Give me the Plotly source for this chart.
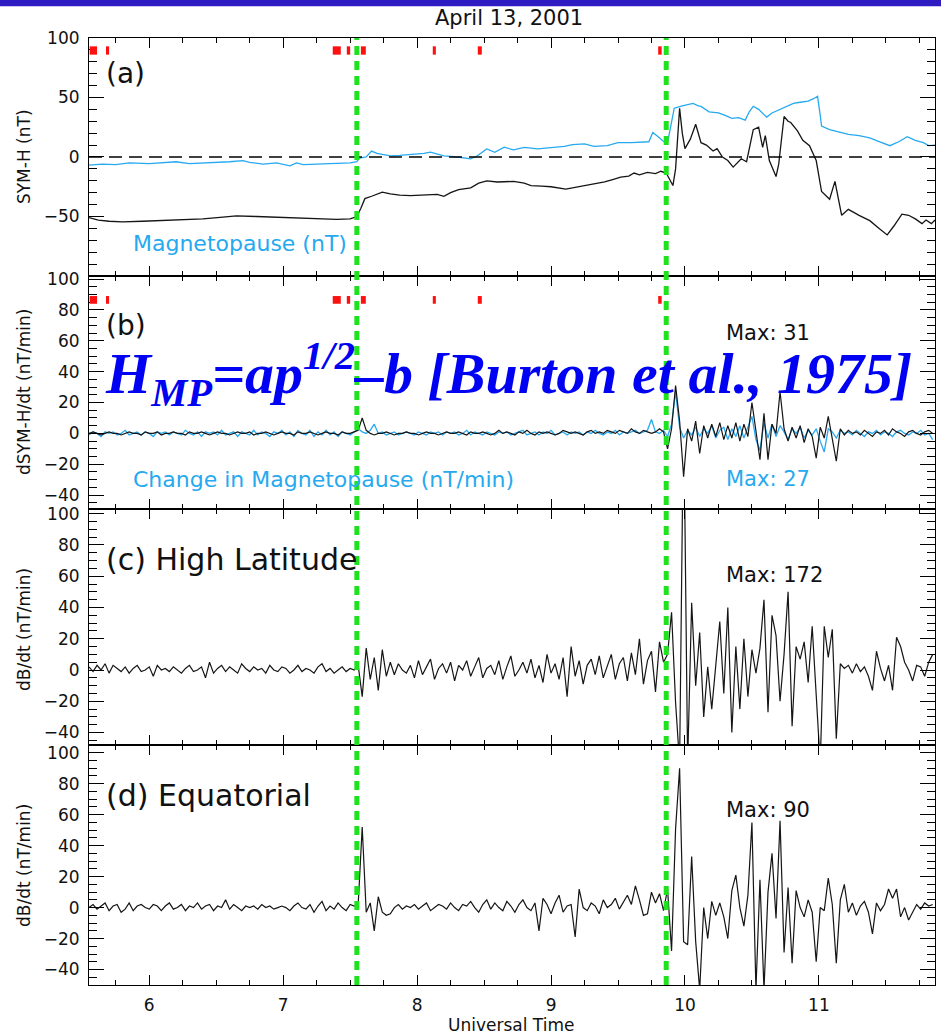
import numpy as np
import plotly.graph_objects as go

# ---------------- data ----------------
# panel (a): SYM-H and magnetopause contribution (nT), UT hours
symh_t = [5.55, 5.62, 5.70, 5.80, 5.95, 6.10, 6.25, 6.40, 6.55, 6.65, 6.80, 6.95, 7.10, 7.25, 7.40, 7.50,
          7.55, 7.58, 7.61, 7.66, 7.74, 7.80, 7.87, 7.95, 8.05, 8.15, 8.20, 8.25, 8.31, 8.40, 8.46, 8.52,
          8.60, 8.72, 8.80, 8.85, 8.93, 9.00, 9.11, 9.20, 9.32, 9.40, 9.46, 9.52, 9.58, 9.62, 9.66, 9.72,
          9.78, 9.82, 9.86, 9.88, 9.91, 9.93, 9.96, 9.98, 10.00, 10.04, 10.08, 10.12, 10.16, 10.21, 10.24,
          10.28, 10.32, 10.36, 10.39, 10.42, 10.46, 10.51, 10.55, 10.58, 10.60, 10.63, 10.68, 10.70, 10.74,
          10.77, 10.79, 10.84, 10.88, 10.93, 10.98, 11.02, 11.08, 11.12, 11.17, 11.22, 11.30, 11.38, 11.45,
          11.51, 11.56, 11.62, 11.67, 11.72, 11.77, 11.80, 11.84, 11.867]
symh_v = [-51, -53, -54, -54.5, -54, -53.5, -53, -52, -50.5, -49.5, -50, -50.5, -51.5, -52, -52.5, -52,
          -50, -43, -35, -33, -29.5, -31, -32, -32.5, -32, -31.5, -33, -30, -27.5, -26, -22, -20,
          -21, -20.5, -22, -24, -24.5, -25, -27, -25, -22.5, -21, -19, -17, -16, -13.5, -15, -13,
          -14, -12, -13.5, -18, -24, -10, 41, 20, 7, 15, 27.5, 12, 10, 5, 7,
          0, -3, -8.5, -5, -1.5, -4, 23, 25, 8, 18, -3, -16.5, -6, 34,
          30, 29, 22, 14, 9.5, -3, -29, -35.5, -20.5, -49, -44, -49, -53.5, -60,
          -65.5, -58, -48, -49, -52, -56, -53, -56, -53]

mp_t = [5.55, 5.65, 5.75, 5.85, 6.00, 6.10, 6.20, 6.30, 6.45, 6.60, 6.70, 6.75, 6.85, 6.95, 7.05, 7.10,
        7.15, 7.25, 7.35, 7.50, 7.55, 7.57, 7.62, 7.66, 7.70, 7.80, 7.87, 7.95, 8.05, 8.10, 8.20, 8.30,
        8.36, 8.40, 8.45, 8.52, 8.58, 8.65, 8.72, 8.80, 8.90, 9.00, 9.10, 9.16, 9.25, 9.32, 9.42, 9.50,
        9.60, 9.73, 9.76, 9.80, 9.84, 9.87, 9.90, 9.92, 9.98, 10.06, 10.10, 10.12, 10.18, 10.25, 10.30,
        10.35, 10.40, 10.45, 10.48, 10.51, 10.55, 10.58, 10.61, 10.65, 10.71, 10.76, 10.81, 10.86, 10.92,
        10.96, 10.99, 11.01, 11.02, 11.08, 11.15, 11.22, 11.30, 11.38, 11.45, 11.53, 11.60, 11.66, 11.72,
        11.78, 11.82, 11.867]
mp_v = [-6.8, -6, -6.5, -5, -5.5, -5, -4, -5.5, -5, -4, -3, -4.5, -6, -5, -7.5, -5,
        -6.5, -6, -5.5, -5, -4, -1, 0, 5, 3, 1, 1.4, 2, 3, 4, 1, 0,
        -1, -1.5, 1, 6.8, 4, 8.2, 6, 8, 6.8, 8, 9, 10.4, 11, 9, 9.5, 12,
        12, 12.8, 20.6, 17, 13, 12, 30, 41, 43, 45, 43, 42.5, 38, 37, 35,
        32.5, 33, 31, 38, 42.6, 40, 37, 33.5, 37, 40, 42, 45, 46, 47,
        49, 51, 35, 26, 23, 21, 19, 18, 16, 13, 9.5, 13, 17, 14,
        12, 9.5, 10]

# derivative series: regular sampling every T_STEP hours starting at T_START
T_START = 5.55
T_STEP = 0.03

dsymh = [0, 1, 0, -1, 0, 1, 0, 0, -1, 0,
         1, 0, 0, -1, 1, 0, 0, 1, -1, 0,
         0, 1, 0, 0, -1, 1, 0, 0, 1, 0,
         -1, 0, 1, 0, 0, -1, 0, 1, 0, 0,
         1, -1, 0, 0, 1, 0, -1, 0, 1, 0,
         0, -1, 1, 0, 0, 1, 0, -1, 0, 1,
         0, 0, -1, 1, 0, 0, 1, 2, 10, 2,
         0, -1, 0, 0, 1, 0, -1, 0, 0, 1,
         0, 0, -1, 0, 1, 0, 0, -1, 0, 1,
         0, 0, 1, 0, -1, 1, 0, 0, 1, 0,
         -1, 0, 2, 0, 1, 0, -1, 1, 0, 2,
         0, -1, 1, 0, 1, 0, -1, 0, 2, 1,
         0, 1, 0, -1, 1, 2, 0, 1, 0, 2,
         1, 0, 2, 1, 0, 3, 1, 0, 2, 1,
         0, 1, 3, 1, -10, 3, 31, 8, -28, 3,
         -5, 8, -13, 5, -3, 6, -2, 7, -4, 5,
         -3, 7, -5, 6, -2, 20, 2, -17, 13, -17,
         6, 0, 27, 3, -5, 4, -3, 5, -6, 3,
         -2, -16, 4, -3, 11, -5, -18, 3, -1, 2,
         0, 1, -1, 2, 0, -2, 1, 0, 2, -1,
         3, 1, 0, -2, 1, 2, 0, -1, 1, 2,
         0]

dmp = [-1, 1, 0, -2, 1, 0, 1, -1, 0, 2,
       -1, 0, 1, -1, 1, 0, -2, 1, 0, 1,
       -1, 1, 0, -1, 2, 0, -1, 1, -2, 1,
       0, 1, -1, 2, -1, 0, 1, -2, 1, 0,
       -1, 2, -1, 1, 0, -2, 1, 0, 2, -1,
       1, -2, 2, 0, -1, 2, -2, 1, -1, 2,
       -1, 1, -2, 1, 0, -1, 1, 3, 1, 0,
       2, 6, 0, 1, -1, 0, 1, -1, 0, 1,
       0, -1, 1, 0, -1, 1, 0, 1, -1, 1,
       0, 1, -1, 0, 2, -1, 1, 0, -1, 1,
       0, -1, 1, 0, 1, -1, 0, 1, 2, -1,
       0, 1, -1, 1, 0, 2, -1, 0, 1, -1,
       1, 0, 1, -1, 1, 0, 2, 0, -1, 1,
       0, 2, -1, 1, 0, 1, 2, 0, 1, 2,
       9, 1, 0, 2, -2, 6, 27, 4, -3, 2,
       -1, 4, -2, 3, 0, 5, -3, 2, 4, -4,
       3, -2, 5, -3, 4, 11, -4, -11, 7, -3,
       6, -2, 5, 1, -4, 3, 0, 4, -3, 2,
       -1, 3, -5, -12, 3, 1, -3, 2, 0, 1,
       -1, 2, 0, -2, 1, 0, 2, -1, 1, 0,
       -2, 1, 2, 0, -1, 1, 0, 2, -1, 0,
       -4]

dbdt_high = [2, -1, 3, 0, 4, -2, 3, 1, -1, 2,
             -2, 1, 3, -1, 0, 2, -4, 3, 0, 1,
             -1, 2, 0, -2, 1, 3, -1, 0, 2, -5,
             5, -2, 1, 3, -1, 2, 0, -2, 4, 1,
             -1, 2, 0, 1, -2, 3, 0, -1, 2, 1,
             -2, 0, 3, -1, 1, 0, -2, 2, 4, -1,
             1, -2, 0, 2, -1, 1, 0, 3, -17, 14,
             -6, 8, -13, 13, -4, 5, -3, 4, 0, -2,
             3, -5, 6, -3, 2, 7, -6, 1, 4, -2,
             5, -7, 3, 0, 6, -4, 2, 8, -5, 1,
             3, -3, 6, -6, 2, 9, -4, 0, 5, -2,
             7, -5, 3, -8, 10, -2, 4, -6, 8, -17,
             15, -4, 6, -9, 3, 7, -3, 9, -5, 2,
             10, -6, 4, 8, -7, 11, -3, 20, -9, 6,
             12, -14, 18, 5, 10, 37, -21, -60, 172, -60,
             43, -10, 24, -30, 2, -25, 5, 31, -15, 40,
             -40, 15, -25, 20, -17, 13, -2, 14, 45, -27,
             35, 22, -20, 10, 50, -36, 15, 7, 18, -8,
             28, -20, -60, 28, 8, 26, -44, 4, 1, 3,
             -2, 4, -1, 2, -4, -13, 12, 1, -7, 3,
             -13, 21, 15, 5, 0, -7, 3, 2, -4, 5,
             10]

dbdt_eq = [0, 2, -1, 1, 3, -2, 1, 2, -3, -1,
           3, -2, 1, 2, 0, -1, 2, 1, -2, 1,
           3, -1, 0, 2, -2, 1, 0, 3, -1, 1,
           2, -2, 1, 0, 5, -1, 2, 0, -2, 1,
           0, 1, -1, 2, 0, 1, -1, 0, 1, 0,
           -2, 1, 3, 0, -1, 2, -3, 1, 4, -2,
           1, -1, 3, 0, -2, 2, 1, 2, 52, -3,
           3, -15, 7, -3, -5, -4, 0, 2, -1, 1,
           0, 2, -1, 1, 3, -2, 0, 2, 1, -1,
           3, 0, -2, 2, 1, 4, 0, -3, 2, 5,
           -1, 3, 0, -2, 4, 1, -3, 2, 5, 0,
           -2, 3, -15, 6, 2, -4, 3, 8, -3, 1,
           2, -19, 12, 0, -2, 3, 1, -4, 5, 0,
           2, 6, -1, 4, 8, 2, 14, 5, -5, -4,
           10, 3, 9, -2, 12, -28, 51, 90, -22, -24,
           33, -22, -53, 0, -20, 4, -5, 3, -6, -20,
           11, 21, 0, -12, 8, 55, -53, 18, -53, 10,
           35, -7, 56, -29, 13, -36, 11, 0, -6, 5,
           -3, -35, 0, -2, 19, 2, -36, 5, 15, -3,
           3, -5, 1, 4, -3, -17, 3, -2, 2, 12,
           6, 12, -6, 0, -8, -3, 2, -1, 3, 1,
           2]

# red interval markers (UT hours)
red_start = [5.555, 5.677, 7.37, 7.475, 7.58, 8.117, 8.453, 9.800]
red_end = [5.610, 5.700, 7.43, 7.500, 7.617, 8.140, 8.483, 9.826]

# event onsets (green dashed lines)
onsets = [7.55, 9.86]

x_ticks = [6, 7, 8, 9, 10, 11]
ya_ticks = [-50, 0, 50, 100]
yb_ticks = [-40, -20, 0, 20, 40, 60, 80, 100]

# ---------------- figure ----------------
def tgrid(vals):
    return T_START + T_STEP * np.arange(len(vals))

BLACK = "#151515"
CYAN = "#27A9F0"
GREEN = "#1FE21F"
FONT = "DejaVu Sans"

fig = go.Figure()
fig.add_trace(go.Scatter(x=symh_t, y=symh_v, mode="lines", line=dict(color=BLACK, width=1.3), xaxis="x", yaxis="y"))
fig.add_trace(go.Scatter(x=mp_t, y=mp_v, mode="lines", line=dict(color=CYAN, width=1.3), xaxis="x", yaxis="y"))
fig.add_trace(go.Scatter(x=tgrid(dmp), y=dmp, mode="lines", line=dict(color=CYAN, width=1.3), xaxis="x2", yaxis="y2"))
fig.add_trace(go.Scatter(x=tgrid(dsymh), y=dsymh, mode="lines", line=dict(color=BLACK, width=1.2), xaxis="x2", yaxis="y2"))
fig.add_trace(go.Scatter(x=tgrid(dbdt_high), y=dbdt_high, mode="lines", line=dict(color=BLACK, width=1.2), xaxis="x3", yaxis="y3"))
fig.add_trace(go.Scatter(x=tgrid(dbdt_eq), y=dbdt_eq, mode="lines", line=dict(color=BLACK, width=1.2), xaxis="x4", yaxis="y4"))

XR = [5.55, 11.867]
domains = {"": [0.7487, 1.0], "2": [0.5026, 0.7487], "3": [0.2534, 0.5026], "4": [0.0, 0.2534]}
yranges = {"": [-100, 100], "2": [-49, 102], "3": [-48, 103], "4": [-50, 105]}

axis_common = dict(showline=True, linecolor="black", linewidth=1.1, mirror="ticks", showgrid=False,
                   zeroline=False, ticks="inside", tickcolor="black", tickwidth=1.1,
                   tickfont=dict(family=FONT, size=17, color="#111"))

layout = dict(width=941, height=1034, autosize=False,
              margin=dict(l=89, r=6, t=38, b=49, pad=0),
              paper_bgcolor="white", plot_bgcolor="white", showlegend=False)

for k in ["", "2", "3", "4"]:
    layout["xaxis" + k] = dict(axis_common, range=XR, anchor="y" + k, domain=[0, 1],
                               tickvals=x_ticks, ticklen=10,
                               minor=dict(dtick=0.25, tick0=5, ticklen=5, ticks="inside", tickcolor="black"),
                               showticklabels=(k == "4"), ticklabelstandoff=5,
                               **({"matches": "x"} if k else {}))
    if k == "":
        yt = dict(tickvals=ya_ticks, minor=dict(dtick=10, tick0=0, ticklen=8, ticks="inside", tickcolor="black"))
    else:
        yt = dict(tickvals=yb_ticks, minor=dict(dtick=5, tick0=0, ticklen=8, ticks="inside", tickcolor="black"))
    layout["yaxis" + k] = dict(axis_common, range=yranges[k], anchor="x" + k, domain=domains[k],
                               ticklen=15, ticklabelstandoff=5, **yt)

shapes = []
# zero line in panel (a)
shapes.append(dict(type="line", xref="paper", yref="y", x0=0, x1=1, y0=0, y1=0,
                   line=dict(color="black", width=1.3, dash="13px,7px")))
# red interval markers in (a) and (b)
for s, e in zip(red_start, red_end):
    shapes.append(dict(type="rect", xref="x", yref="y", x0=s, x1=e, y0=86, y1=93,
                       fillcolor="#FF1010", line=dict(width=0)))
    shapes.append(dict(type="rect", xref="x2", yref="y2", x0=s, x1=e, y0=84, y1=89,
                       fillcolor="#FF1010", line=dict(width=0)))
# green onset lines
for t in onsets:
    shapes.append(dict(type="line", xref="x4", yref="paper", x0=t, x1=t, y0=0, y1=1,
                       line=dict(color=GREEN, width=5, dash="9px,6px")))
# top banner remnant
shapes.append(dict(type="rect", xref="paper", yref="paper", x0=-0.11, x1=1.01, y0=1.0335, y1=1.045,
                   fillcolor="#2E1BC2", line=dict(width=0)))
layout["shapes"] = shapes


def ann(text, x, y, size, color="#111", xanchor="left", angle=0, family=FONT):
    return dict(text=text, x=x, y=y, xref="paper", yref="paper", xanchor=xanchor, yanchor="middle",
                showarrow=False, textangle=angle, font=dict(family=family, size=size, color=color))


annots = [
    ann("April 13, 2001", 0.4965, 1.0211, 21, xanchor="center"),
    ann("(a)", 0.018, 0.963, 28),
    ann("Magnetopause (nT)", 0.050, 0.7835, 22, color=CYAN),
    ann("(b)", 0.018, 0.6965, 28),
    ann("Max: 31", 0.750, 0.6880, 21),
    ann("Change in Magnetopause (nT/min)", 0.050, 0.5333, 22, color=CYAN),
    ann("Max: 27", 0.750, 0.5343, 21, color=CYAN),
    ann("(c) High Latitude", 0.018, 0.4488, 30),
    ann("Max: 172", 0.750, 0.4330, 21),
    ann("(d) Equatorial", 0.018, 0.2006, 30),
    ann("Max: 90", 0.750, 0.1848, 21),
    ann("SYM-H (nT)", -0.0768, 0.8743, 17, xanchor="center", angle=-90),
    ann("dSYM-H/dt (nT/min)", -0.0768, 0.6262, 17, xanchor="center", angle=-90),
    ann("dB/dt (nT/min)", -0.0768, 0.3749, 17, xanchor="center", angle=-90),
    ann("dB/dt (nT/min)", -0.0768, 0.1257, 17, xanchor="center", angle=-90),
    ann("Universal Time", 0.4988, -0.0418, 17, xanchor="center"),
    ann("<b><i>H<sub>MP</sub>=ap<sup>1/2</sup>–b [Burton et al., 1975]</i></b>", 0.016, 0.6450, 58,
        color="#0000F2", family="Liberation Serif"),
]
layout["annotations"] = annots

fig.update_layout(**layout)
fig.write_html("out.html", config={"displayModeBar": False})
